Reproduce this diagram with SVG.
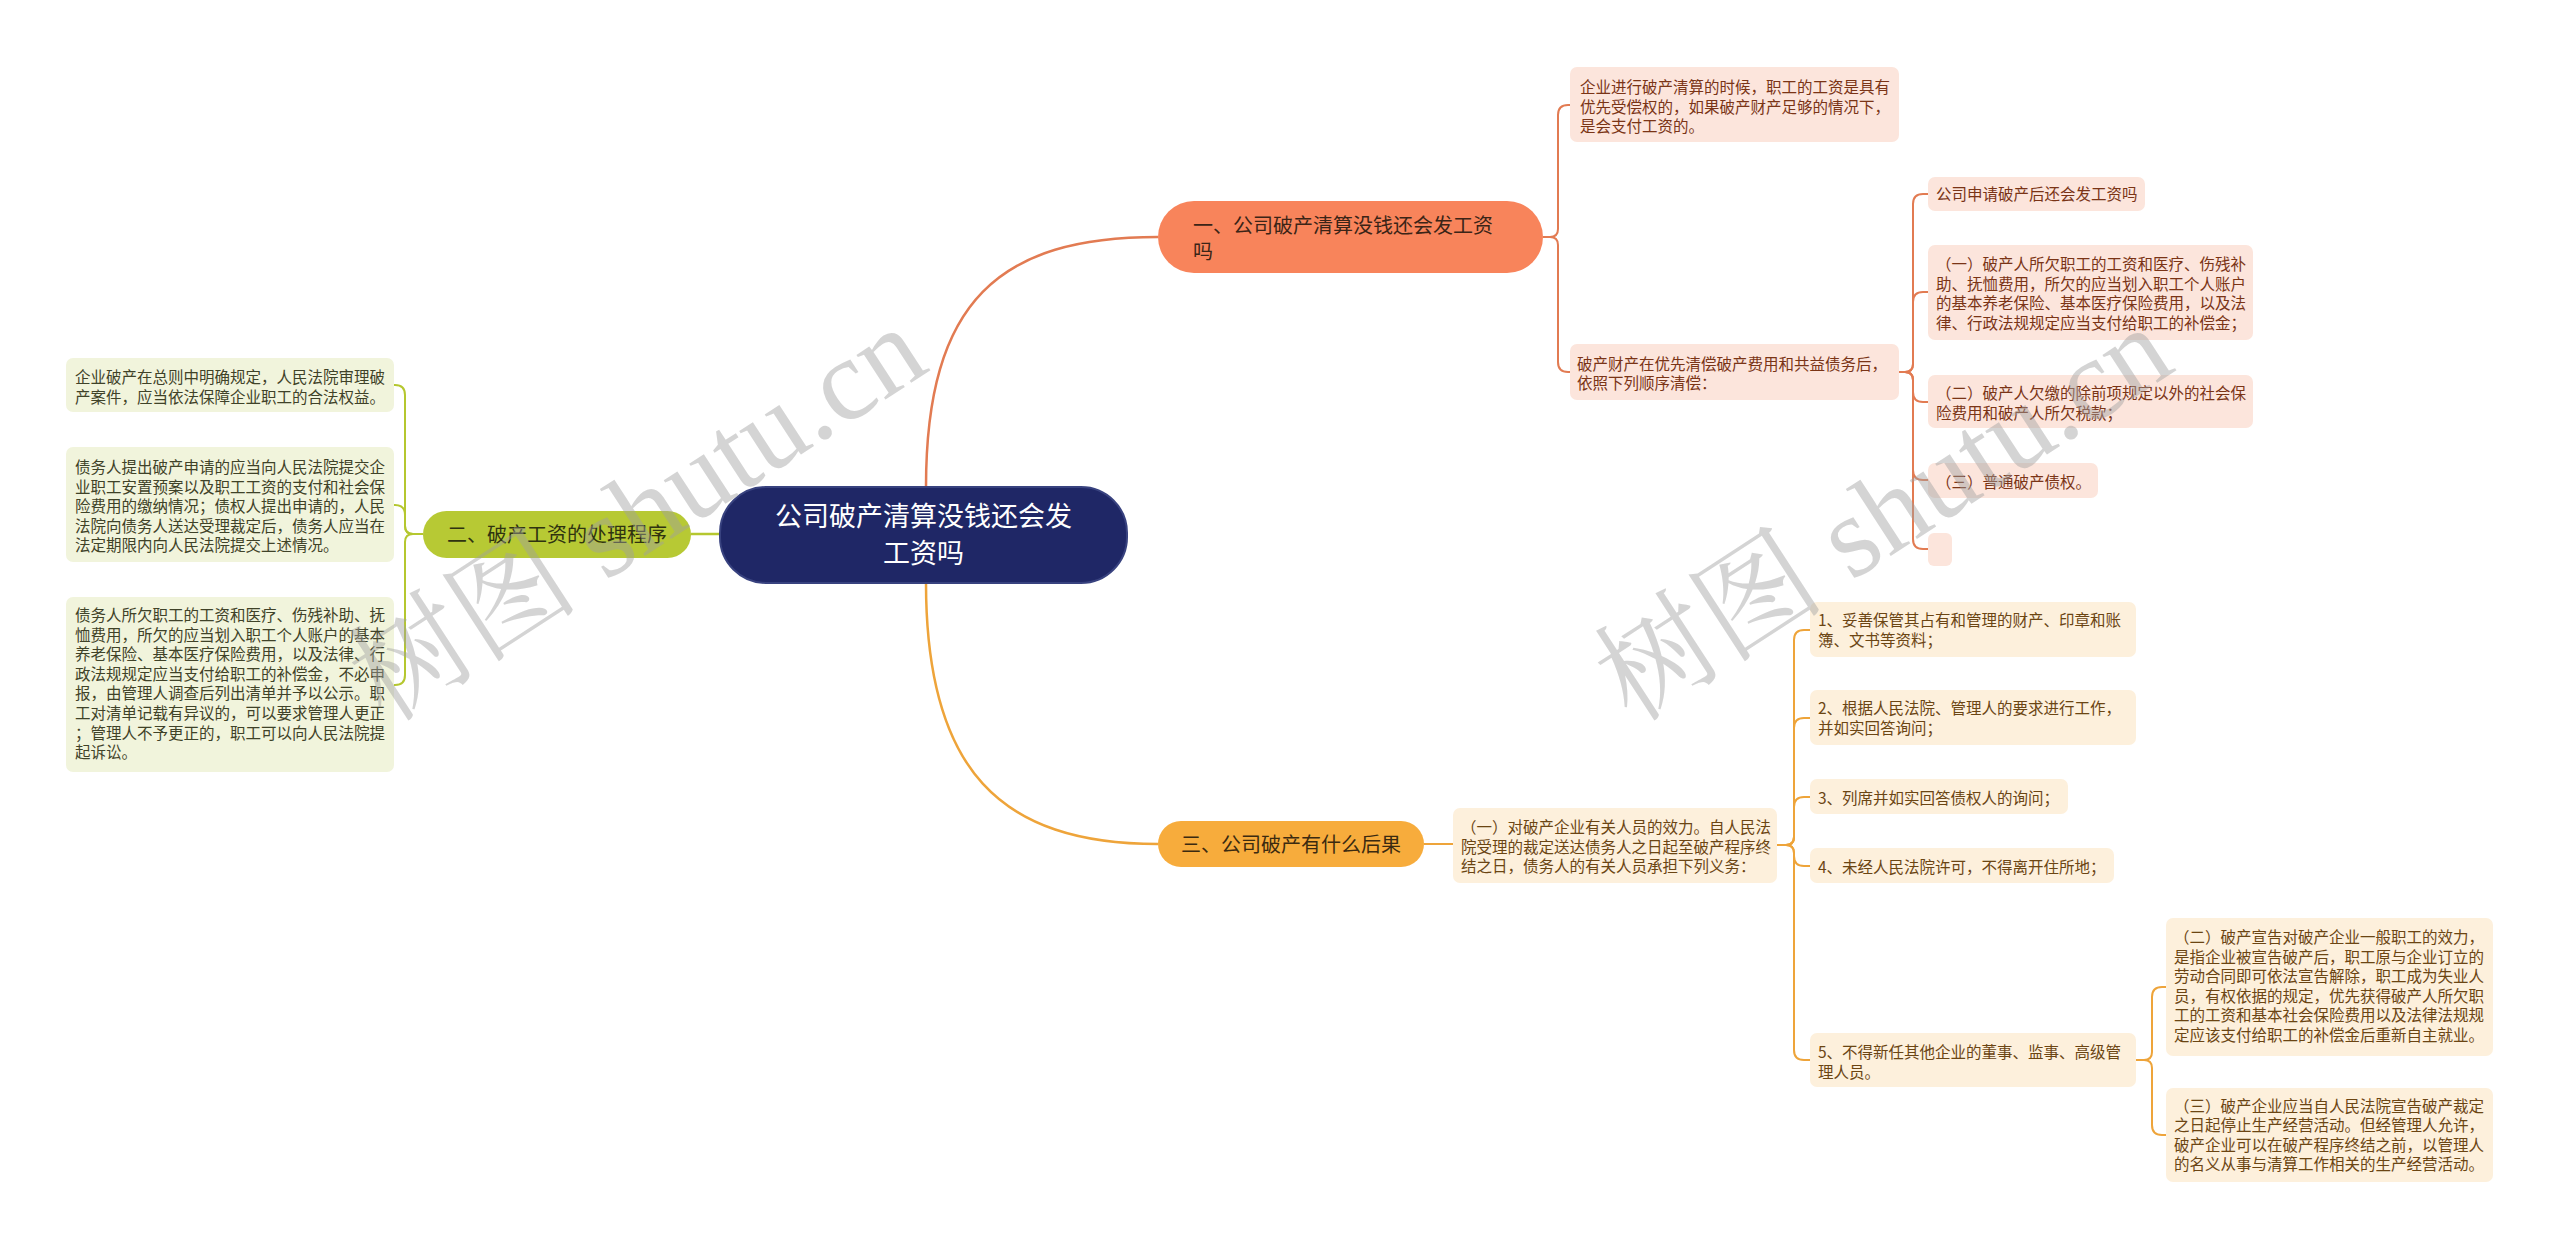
<svg xmlns="http://www.w3.org/2000/svg" width="2560" height="1249" viewBox="0 0 2560 1249">
<style>
text { font-family: "Noto Sans CJK SC", "Noto Sans", sans-serif; }
.s { font-size: 15.5px; }
.m { font-size: 20px; }
.pk { fill: #fce5dc; }
.pkt { fill: #7a3416; }
.gr { fill: #f1f4dc; }
.grt { fill: #3f4228; }
.cr { fill: #fdf0dc; }
.crt { fill: #6b4513; }
.lc { fill: none; stroke: #e27b52; stroke-width: 2; }
.lg { fill: none; stroke: #b5c72f; stroke-width: 2; }
.lo { fill: none; stroke: #eea43a; stroke-width: 2; }
.wm { font-family: "Liberation Serif", "Noto Serif CJK SC", "Noto Sans CJK SC", serif; font-size: 116px; fill: #a0a0a0; fill-opacity: 0.45; }
</style>
<rect width="2560" height="1249" fill="#ffffff"/>

<g id="connectors">
  <path class="lc" style="stroke-width:2.5" d="M926 487 C926 300 1000 237 1158 237"/>
  <path class="lo" style="stroke-width:2.5" d="M926 583 C926 770 1000 844 1158 844"/>
  <path class="lg" style="stroke-width:2.5" d="M720 534 L691 534"/>
  <path class="lc" d="M1543 237 H1550 Q1558 237 1558 229 V115 Q1558 105 1568 105 H1570"/>
  <path class="lc" d="M1543 237 H1550 Q1558 237 1558 245 V362 Q1558 372 1568 372 H1570"/>
  <path class="lc" d="M1899 372 H1905 Q1913 372 1913 364 V204 Q1913 194 1923 194 H1928"/>
  <path class="lc" d="M1899 372 H1905 Q1913 372 1913 364 V302 Q1913 292 1923 292 H1928"/>
  <path class="lc" d="M1899 372 H1905 Q1913 372 1913 380 V392 Q1913 402 1923 402 H1928"/>
  <path class="lc" d="M1899 372 H1905 Q1913 372 1913 380 V470 Q1913 480 1923 480 H1928"/>
  <path class="lc" d="M1899 372 H1905 Q1913 372 1913 380 V539 Q1913 549 1923 549 H1928"/>
  <path class="lg" d="M423 534 H413 Q405 534 405 526 V395 Q405 385 395 385 H394"/>
  <path class="lg" d="M423 534 H413 Q405 534 405 526 V515 Q405 505 395 505 H394"/>
  <path class="lg" d="M423 534 H413 Q405 534 405 542 V675 Q405 685 395 685 H394"/>
  <path class="lo" d="M1424 844 H1453"/>
  <path class="lo" d="M1777 845 H1786 Q1794 845 1794 837 V640 Q1794 630 1804 630 H1810"/>
  <path class="lo" d="M1777 845 H1786 Q1794 845 1794 837 V728 Q1794 718 1804 718 H1810"/>
  <path class="lo" d="M1777 845 H1786 Q1794 845 1794 837 V807 Q1794 797 1804 797 H1810"/>
  <path class="lo" d="M1777 845 H1786 Q1794 845 1794 853 V856 Q1794 866 1804 866 H1810"/>
  <path class="lo" d="M1777 845 H1786 Q1794 845 1794 853 V1050 Q1794 1060 1804 1060 H1810"/>
  <path class="lo" d="M2136 1060 H2144 Q2152 1060 2152 1052 V997 Q2152 987 2162 987 H2166"/>
  <path class="lo" d="M2136 1060 H2144 Q2152 1060 2152 1068 V1125 Q2152 1135 2162 1135 H2166"/>
</g>

<g id="center">
  <rect x="720" y="487" width="407" height="96" rx="46" fill="#1f2766" stroke="#38427f" stroke-width="2"/>
  <text x="923.5" y="526" font-size="27" fill="#ffffff" text-anchor="middle">公司破产清算没钱还会发</text>
  <text x="923.5" y="563" font-size="27" fill="#ffffff" text-anchor="middle">工资吗</text>
</g>

<g id="node1">
  <rect x="1158" y="201" width="385" height="72" rx="36" fill="#f8845b"/>
  <text class="m" x="1193" y="232.5" fill="#3b2417">一、公司破产清算没钱还会发工资</text>
  <text class="m" x="1193" y="258.5" fill="#3b2417">吗</text>
</g>
<g id="node2">
  <rect x="423" y="511" width="268" height="47" rx="23.5" fill="#b7c934"/>
  <text class="m" x="557" y="541.5" fill="#2f3310" text-anchor="middle">二、破产工资的处理程序</text>
</g>
<g id="node3">
  <rect x="1158" y="821" width="266" height="46" rx="23" fill="#f7ac3c"/>
  <text class="m" x="1291" y="851.5" fill="#3b2a10" text-anchor="middle">三、公司破产有什么后果</text>
</g>

<g id="a1">
  <rect class="pk" x="1570" y="67" width="329" height="75" rx="7"/>
  <text class="s pkt"><tspan x="1580" y="93">企业进行破产清算的时候，职工的工资是具有</tspan><tspan x="1580" y="112.6">优先受偿权的，如果破产财产足够的情况下，</tspan><tspan x="1580" y="132.2">是会支付工资的。</tspan></text>
</g>
<g id="a2">
  <rect class="pk" x="1570" y="344" width="329" height="56" rx="7"/>
  <text class="s pkt"><tspan x="1577" y="369.5">破产财产在优先清偿破产费用和共益债务后，</tspan><tspan x="1577" y="389.1">依照下列顺序清偿：</tspan></text>
</g>
<g id="b1">
  <rect class="pk" x="1928" y="177" width="217" height="34" rx="7"/>
  <text class="s pkt" x="1936" y="199.5">公司申请破产后还会发工资吗</text>
</g>
<g id="b2">
  <rect class="pk" x="1928" y="245" width="325" height="95" rx="7"/>
  <text class="s pkt"><tspan x="1936" y="270">（一）破产人所欠职工的工资和医疗、伤残补</tspan><tspan x="1936" y="289.6">助、抚恤费用，所欠的应当划入职工个人账户</tspan><tspan x="1936" y="309.2">的基本养老保险、基本医疗保险费用，以及法</tspan><tspan x="1936" y="328.8">律、行政法规规定应当支付给职工的补偿金；</tspan></text>
</g>
<g id="b3">
  <rect class="pk" x="1928" y="375" width="325" height="53" rx="7"/>
  <text class="s pkt"><tspan x="1936" y="399">（二）破产人欠缴的除前项规定以外的社会保</tspan><tspan x="1936" y="418.6">险费用和破产人所欠税款；</tspan></text>
</g>
<g id="b4">
  <rect class="pk" x="1928" y="463" width="170" height="35" rx="7"/>
  <text class="s pkt" x="1936" y="487.5">（三）普通破产债权。</text>
</g>
<g id="b5">
  <rect class="pk" x="1928" y="533" width="24" height="33" rx="6"/>
</g>

<g id="c1">
  <rect class="gr" x="66" y="358" width="328" height="54" rx="7"/>
  <text class="s grt"><tspan x="75" y="383">企业破产在总则中明确规定，人民法院审理破</tspan><tspan x="75" y="402.6">产案件，应当依法保障企业职工的合法权益。</tspan></text>
</g>
<g id="c2">
  <rect class="gr" x="66" y="447" width="328" height="115" rx="7"/>
  <text class="s grt"><tspan x="75" y="473">债务人提出破产申请的应当向人民法院提交企</tspan><tspan x="75" y="492.6">业职工安置预案以及职工工资的支付和社会保</tspan><tspan x="75" y="512.2">险费用的缴纳情况；债权人提出申请的，人民</tspan><tspan x="75" y="531.8">法院向债务人送达受理裁定后，债务人应当在</tspan><tspan x="75" y="551.4">法定期限内向人民法院提交上述情况。</tspan></text>
</g>
<g id="c3">
  <rect class="gr" x="66" y="597" width="328" height="175" rx="7"/>
  <text class="s grt"><tspan x="75" y="621">债务人所欠职工的工资和医疗、伤残补助、抚</tspan><tspan x="75" y="640.6">恤费用，所欠的应当划入职工个人账户的基本</tspan><tspan x="75" y="660.2">养老保险、基本医疗保险费用，以及法律、行</tspan><tspan x="75" y="679.8">政法规规定应当支付给职工的补偿金，不必申</tspan><tspan x="75" y="699.4">报，由管理人调查后列出清单并予以公示。职</tspan><tspan x="75" y="719">工对清单记载有异议的，可以要求管理人更正</tspan><tspan x="75" y="738.6">；管理人不予更正的，职工可以向人民法院提</tspan><tspan x="75" y="758.2">起诉讼。</tspan></text>
</g>

<g id="d1">
  <rect class="cr" x="1453" y="808" width="324" height="75" rx="7"/>
  <text class="s crt"><tspan x="1461" y="833">（一）对破产企业有关人员的效力。自人民法</tspan><tspan x="1461" y="852.6">院受理的裁定送达债务人之日起至破产程序终</tspan><tspan x="1461" y="872.2">结之日，债务人的有关人员承担下列义务：</tspan></text>
</g>
<g id="e1">
  <rect class="cr" x="1810" y="602" width="326" height="55" rx="7"/>
  <text class="s crt"><tspan x="1818" y="626">1、妥善保管其占有和管理的财产、印章和账</tspan><tspan x="1818" y="645.6">簿、文书等资料；</tspan></text>
</g>
<g id="e2">
  <rect class="cr" x="1810" y="690" width="326" height="55" rx="7"/>
  <text class="s crt"><tspan x="1818" y="714">2、根据人民法院、管理人的要求进行工作，</tspan><tspan x="1818" y="733.6">并如实回答询问；</tspan></text>
</g>
<g id="e3">
  <rect class="cr" x="1810" y="779" width="258" height="35" rx="7"/>
  <text class="s crt" x="1818" y="803.5">3、列席并如实回答债权人的询问；</text>
</g>
<g id="e4">
  <rect class="cr" x="1810" y="848" width="304" height="35" rx="7"/>
  <text class="s crt" x="1818" y="872.5">4、未经人民法院许可，不得离开住所地；</text>
</g>
<g id="e5">
  <rect class="cr" x="1810" y="1033" width="326" height="54" rx="7"/>
  <text class="s crt"><tspan x="1818" y="1058">5、不得新任其他企业的董事、监事、高级管</tspan><tspan x="1818" y="1077.6">理人员。</tspan></text>
</g>
<g id="f1">
  <rect class="cr" x="2166" y="918" width="327" height="138" rx="7"/>
  <text class="s crt"><tspan x="2174" y="943">（二）破产宣告对破产企业一般职工的效力，</tspan><tspan x="2174" y="962.6">是指企业被宣告破产后，职工原与企业订立的</tspan><tspan x="2174" y="982.2">劳动合同即可依法宣告解除，职工成为失业人</tspan><tspan x="2174" y="1001.8">员，有权依据的规定，优先获得破产人所欠职</tspan><tspan x="2174" y="1021.4">工的工资和基本社会保险费用以及法律法规规</tspan><tspan x="2174" y="1041">定应该支付给职工的补偿金后重新自主就业。</tspan></text>
</g>
<g id="f2">
  <rect class="cr" x="2166" y="1088" width="327" height="94" rx="7"/>
  <text class="s crt"><tspan x="2174" y="1111.5">（三）破产企业应当自人民法院宣告破产裁定</tspan><tspan x="2174" y="1131.1">之日起停止生产经营活动。但经管理人允许，</tspan><tspan x="2174" y="1150.7">破产企业可以在破产程序终结之前，以管理人</tspan><tspan x="2174" y="1170.3">的名义从事与清算工作相关的生产经营活动。</tspan></text>
</g>

<g id="watermarks">
  <text class="wm" transform="translate(386 724) rotate(-33)">树图 shutu.cn</text>
  <text class="wm" transform="translate(1632 724) rotate(-33)">树图 shutu.cn</text>
</g>
</svg>
